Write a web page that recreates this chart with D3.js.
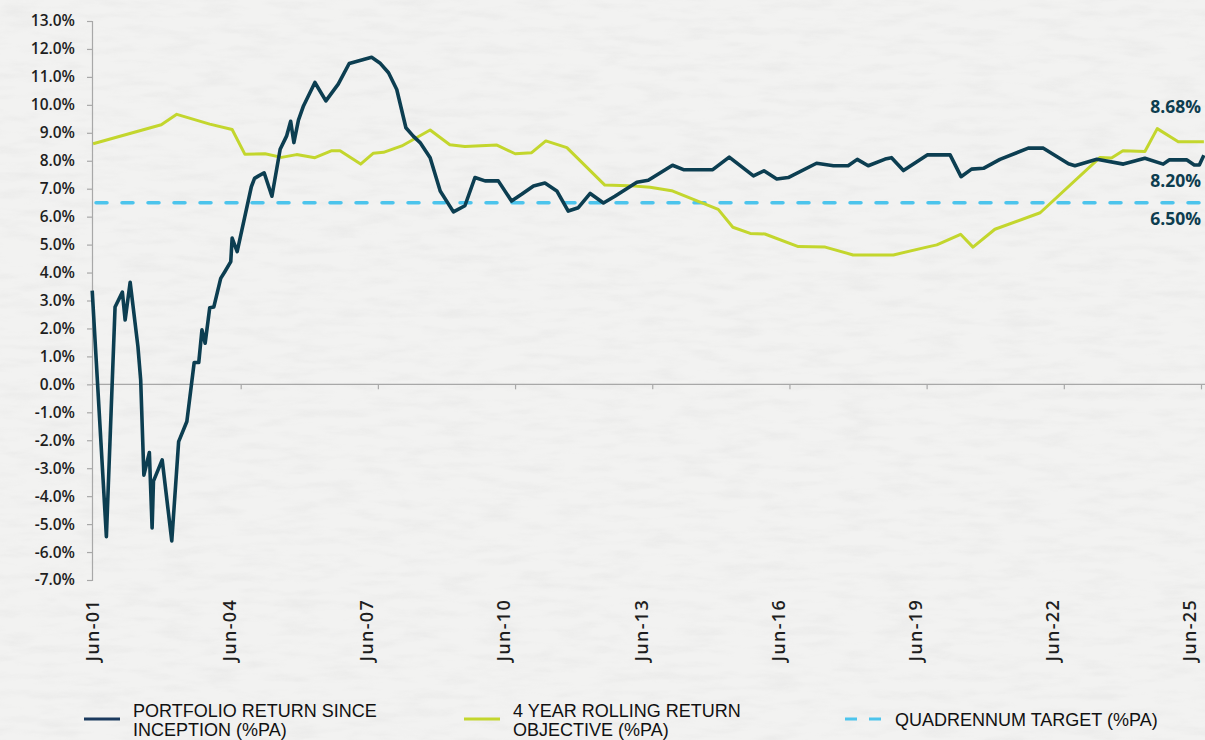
<!DOCTYPE html>
<html>
<head>
<meta charset="utf-8">
<script src="https://cdn.jsdelivr.net/npm/d3@7"></script>
<style>
  html, body { margin: 0; padding: 0; background: #f0f0ef; }
  svg { display: block; }
  .axis-label { font-family: "Open Sans", "Noto Sans", sans-serif; font-weight: 600; fill: #1e1e1e; }
  .legend-text { font-family: "Liberation Sans", Arial, sans-serif; fill: #111; }
  .end-label { font-family: "Open Sans", "Noto Sans", sans-serif; font-weight: 700; fill: #0d3d4f; }
</style>
</head>
<body>
<svg id="chart" width="1205" height="740"></svg>
<script>
// Portfolio return since inception (% p.a.), dated in decimal years
const portfolioYears = [
  2001.17, 2001.48, 2001.67, 2001.83, 2001.89, 2002.00, 2002.17, 2002.23, 2002.30, 2002.42,
  2002.48, 2002.51, 2002.70, 2002.91, 2003.06, 2003.24, 2003.40, 2003.50, 2003.57, 2003.64,
  2003.74, 2003.83, 2003.98, 2004.07, 2004.20, 2004.23, 2004.34, 2004.50, 2004.65, 2004.72,
  2004.80, 2004.93, 2005.10, 2005.28, 2005.42, 2005.51, 2005.58, 2005.68, 2005.79, 2006.04,
  2006.28, 2006.55, 2006.79, 2007.28, 2007.46, 2007.65, 2007.83, 2008.03, 2008.19, 2008.34,
  2008.56, 2008.78, 2009.07, 2009.32, 2009.54, 2009.76, 2010.05, 2010.34, 2010.56, 2010.82,
  2011.07, 2011.33, 2011.58, 2011.80, 2012.06, 2012.35, 2012.60, 2013.08, 2013.33, 2013.86,
  2014.10, 2014.74, 2015.10, 2015.63, 2015.86, 2016.14, 2016.39, 2017.01, 2017.38, 2017.70,
  2017.90, 2018.14, 2018.51, 2018.65, 2018.91, 2019.43, 2019.93, 2020.17, 2020.40, 2020.66,
  2021.02, 2021.64, 2021.97, 2022.52, 2022.66, 2023.14, 2023.72, 2024.19, 2024.59, 2024.72,
  2025.11, 2025.27, 2025.38, 2025.48
];
const portfolioValues = [
   3.35, -5.45,  2.77,  3.30,  2.30,  3.65,  1.35,  0.16, -3.25, -2.44,
  -5.14, -3.46, -2.70, -5.60, -2.05, -1.33,  0.78,  0.78,  1.95,  1.47,
   2.74,  2.77,  3.79,  4.03,  4.39,  5.23,  4.75,  5.95,  7.07,  7.37,
   7.45,  7.57,  6.73,  8.41,  8.88,  9.41,  8.65,  9.45,  9.96, 10.80,
  10.14, 10.74, 11.48, 11.70, 11.50, 11.15, 10.55,  9.18,  8.88,  8.65,
   8.11,  6.92,  6.17,  6.39,  7.40,  7.28,  7.28,  6.56,  6.80,  7.10,
   7.20,  6.92,  6.20,  6.32,  6.83,  6.49,  6.73,  7.23,  7.30,  7.84,
   7.68,  7.68,  8.13,  7.46,  7.64,  7.35,  7.40,  7.91,  7.82,  7.82,
   8.05,  7.82,  8.06,  8.11,  7.65,  8.21,  8.21,  7.43,  7.70,  7.73,
   8.05,  8.45,  8.45,  7.89,  7.82,  8.05,  7.88,  8.09,  7.88,  8.03,
   8.03,  7.85,  7.85,  8.20
];

// 4 year rolling return objective (% p.a.)
const objectiveYears = [
  2001.19, 2002.68, 2003.02, 2003.74, 2004.23, 2004.51, 2004.95, 2005.31, 2005.64, 2006.04,
  2006.41, 2006.59, 2007.04, 2007.32, 2007.54, 2007.94, 2008.56, 2008.99, 2009.32, 2010.02,
  2010.42, 2010.78, 2011.09, 2011.55, 2012.38, 2012.89, 2013.37, 2013.84, 2014.86, 2015.18,
  2015.56, 2015.88, 2016.61, 2017.20, 2017.81, 2018.69, 2019.42, 2019.64, 2020.16, 2020.43,
  2020.91, 2021.90, 2023.21, 2023.46, 2023.71, 2024.19, 2024.46, 2024.92, 2025.48
];
const objectiveValues = [
  8.61, 9.29, 9.66, 9.31, 9.12, 8.23, 8.25, 8.12, 8.22, 8.11,
  8.36, 8.36, 7.88, 8.27, 8.30, 8.53, 9.10, 8.57, 8.51, 8.56,
  8.25, 8.29, 8.71, 8.47, 7.13, 7.11, 7.05, 6.93, 6.26, 5.62,
  5.40, 5.38, 4.93, 4.91, 4.63, 4.63, 4.91, 4.99, 5.37, 4.91,
  5.55, 6.14, 8.12, 8.10, 8.36, 8.33, 9.15, 8.68, 8.68
];

// Quadrennium target (% p.a.)
const targetValue = 6.50;

// Axis ticks
const yTickValues = d3.range(-7, 14, 1);
const xTickYears = [2001.417, 2004.417, 2007.417, 2010.417, 2013.417, 2016.417, 2019.417, 2022.417, 2025.417];
const xTickLabels = ["Jun-01", "Jun-04", "Jun-07", "Jun-10", "Jun-13", "Jun-16", "Jun-19", "Jun-22", "Jun-25"];

// Legend entries
const legendLabels = [
  ["PORTFOLIO RETURN SINCE", "INCEPTION (%PA)"],
  ["4 YEAR ROLLING RETURN", "OBJECTIVE (%PA)"],
  ["QUADRENNUM TARGET (%PA)"]
];

const colors = { portfolio: "#0c3e51", objective: "#c3d62d", target: "#4cc4ec", axis: "#a8a8a8" };

const svg = d3.select("#chart");
const W = 1205, H = 740;

// Paper-like background texture
const defs = svg.append("defs");
const paper = defs.append("filter").attr("id", "paper").attr("x", 0).attr("y", 0).attr("width", "100%").attr("height", "100%");
paper.append("feTurbulence").attr("type", "fractalNoise").attr("baseFrequency", "0.025 0.11").attr("numOctaves", 4).attr("seed", 11).attr("result", "noise");
paper.append("feColorMatrix").attr("type", "matrix")
  .attr("values", "0 0 0 0 0.6  0 0 0 0 0.6  0 0 0 0 0.6  0 0 0 -1.2 0.68");
svg.append("rect").attr("width", W).attr("height", H).attr("fill", "#f2f2f1");
svg.append("rect").attr("width", W).attr("height", H).attr("filter", "url(#paper)").attr("opacity", 0.3);

const plotLeft = 92, plotRight = 1205, plotTop = 21, plotBottom = 580;

const x = d3.scaleLinear()
  .domain([2001.417, 2025.417])
  .range([103.5, 1201]);

const y = d3.scaleLinear()
  .domain([-7, 13])
  .range([plotBottom, plotTop]);

// Y axis
const yAxis = d3.axisLeft(y).tickValues(yTickValues).tickSize(5).tickFormat(d => d.toFixed(1) + "%");
const yG = svg.append("g").attr("transform", `translate(${plotLeft},0)`).call(yAxis);
yG.select(".domain").attr("stroke", colors.axis).attr("stroke-width", 1.2);
yG.selectAll(".tick line").attr("stroke", colors.axis).attr("stroke-width", 1.2);
yG.selectAll(".tick text")
  .attr("class", "axis-label")
  .attr("x", -17)
  .style("font-size", "15.5px");

// X axis along the zero line
const xAxis = d3.axisBottom(x).tickValues(xTickYears.slice(1)).tickSize(5).tickFormat("");
const xG = svg.append("g").attr("transform", `translate(0,${y(0)})`).call(xAxis);
xG.select(".domain").attr("d", `M${plotLeft},0H${plotRight}`).attr("stroke", colors.axis).attr("stroke-width", 1.2);
xG.selectAll(".tick line").attr("stroke", colors.axis).attr("stroke-width", 1.2);

// Rotated date labels below the plot
svg.append("g").selectAll("text")
  .data(xTickYears)
  .join("text")
  .attr("class", "axis-label")
  .style("font-size", "18px")
  .style("letter-spacing", "1.3px")
  .attr("text-anchor", "end")
  .attr("dy", "0.35em")
  .attr("transform", d => `translate(${x(d) - 11},599) rotate(-90)`)
  .text((d, i) => xTickLabels[i]);

// Target line
svg.append("line")
  .attr("x1", plotLeft + 4).attr("x2", plotRight)
  .attr("y1", y(targetValue)).attr("y2", y(targetValue))
  .attr("stroke", colors.target).attr("stroke-width", 3.5)
  .attr("stroke-dasharray", "11,15").attr("stroke-linecap", "round");

const line = d3.line().x(d => x(d[0])).y(d => y(d[1]));

svg.append("path")
  .datum(d3.zip(objectiveYears, objectiveValues))
  .attr("d", line)
  .attr("fill", "none").attr("stroke", colors.objective)
  .attr("stroke-width", 3).attr("stroke-linejoin", "round");

svg.append("path")
  .datum(d3.zip(portfolioYears, portfolioValues))
  .attr("d", line)
  .attr("fill", "none").attr("stroke", colors.portfolio)
  .attr("stroke-width", 3.6).attr("stroke-linejoin", "round");

// End-value labels
const endLabels = [
  { v: objectiveValues[objectiveValues.length - 1], cy: 107 },
  { v: portfolioValues[portfolioValues.length - 1], cy: 181 },
  { v: targetValue, cy: 219 }
];
svg.append("g").selectAll("text")
  .data(endLabels)
  .join("text")
  .attr("class", "end-label")
  .style("font-size", "17.5px")
  .attr("text-anchor", "end")
  .attr("x", 1201)
  .attr("y", d => d.cy)
  .attr("dy", "0.36em")
  .text(d => d.v.toFixed(2) + "%");

// Legend
const legend = svg.append("g");
const legendItems = [
  { x0: 84, tx: 133, color: "#1b3a5e", dash: null, lines: legendLabels[0] },
  { x0: 464, tx: 513, color: colors.objective, dash: null, lines: legendLabels[1] },
  { x0: 845, tx: 895, color: colors.target, dash: "12,12", lines: legendLabels[2] }
];
legendItems.forEach(item => {
  legend.append("line")
    .attr("x1", item.x0).attr("x2", item.x0 + 36)
    .attr("y1", 719).attr("y2", 719)
    .attr("stroke", item.color).attr("stroke-width", 3.2)
    .attr("stroke-dasharray", item.dash);
  const t = legend.append("text").attr("class", "legend-text").style("font-size", "18px");
  const n = item.lines.length;
  item.lines.forEach((s, i) => {
    t.append("tspan")
      .attr("x", item.tx)
      .attr("y", 720 + (i - (n - 1) / 2) * 18.5)
      .attr("dy", "0.36em")
      .text(s);
  });
});
</script>
</body>
</html>
